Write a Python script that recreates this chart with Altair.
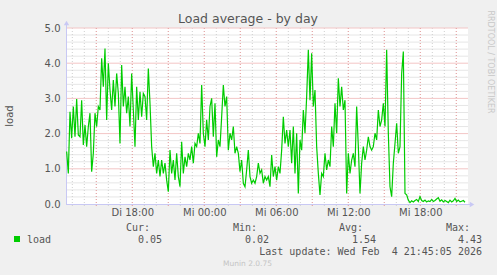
import altair as alt
import pandas as pd

# ---- data (load average, roughly every 8 minutes) ----
load_part1 = [1.49, 0.87, 2.62, 1.87, 2.77, 1.91, 2.98, 1.96, 1.91, 2.95,
              1.68, 2.24, 1.63, 2.20, 2.58, 0.92, 1.44, 2.58, 2.20, 2.77,
              2.67, 4.14, 3.33, 4.42, 2.39, 4.00, 3.24, 2.67, 3.52, 2.77,
              3.71, 3.14, 1.72, 3.95, 2.77, 3.33, 2.58, 3.05, 2.20, 3.71,
              2.67, 1.63, 3.33, 2.39, 3.19, 2.48, 3.14, 3.05, 2.39, 3.85,
              2.86, 1.63, 1.06, 1.44, 0.87, 1.25, 0.78, 1.25, 0.87, 1.16,
              0.68, 0.35, 1.53, 0.87, 1.25, 0.68, 1.44, 0.78, 0.49, 1.77,
              0.87, 1.34, 1.06, 1.44, 1.25, 1.63, 1.16, 1.72, 1.63, 2.01,
              1.72, 3.38, 2.01, 1.63, 2.39, 1.82, 2.77, 3.00, 1.91, 2.86,
              1.34, 1.82, 1.63, 2.48, 3.38, 2.77, 3.05, 1.53, 2.01, 1.82,
              2.20, 1.44, 1.63, 1.44, 0.92, 1.25, 0.59, 0.49, 0.97, 1.53,
              0.78, 0.59, 0.68, 0.59, 0.78, 1.16, 0.87]
load_part2 = [0.97, 0.59, 0.78, 0.68, 0.78, 0.49, 1.39, 0.78, 1.06, 0.68,
              1.06, 0.87, 1.53, 2.48, 1.72, 2.10, 1.63, 2.10, 1.16, 2.20,
              0.87, 2.01, 0.30, 1.82, 1.53, 2.67, 2.01, 3.05, 4.38, 2.95,
              4.28, 2.77, 3.24, 1.63, 0.87, 0.26, 0.87, 0.78, 1.44, 0.97,
              1.25, 1.06, 2.20, 1.63, 2.86, 2.01, 3.57, 2.77, 3.33, 2.67,
              2.95, 0.30, 1.44, 0.87, 1.25, 1.44, 1.06, 2.77, 1.63, 0.30,
              1.16, 1.63, 1.25, 1.53, 1.91, 1.63, 1.53, 1.63, 2.01, 1.82,
              2.67, 2.20, 2.39, 2.86, 2.20, 4.38, 2.01, 0.49, 0.21, 1.16,
              1.72, 2.29, 1.44, 1.63, 3.71, 4.33, 0.30, 0.26]
load_tail = [0.11, 0.04, 0.09, 0.06, 0.10, 0.13, 0.07, 0.21, 0.10, 0.07,
             0.11, 0.06, 0.09, 0.07, 0.13, 0.07, 0.10, 0.14, 0.18, 0.08,
             0.12, 0.06, 0.10, 0.07, 0.04, 0.11, 0.06, 0.09, 0.16, 0.07,
             0.11, 0.06, 0.08, 0.10, 0.05]
load = load_part1 + load_part2 + load_tail

start_hour = 12.53          # hours since Tue 00:00
step_hour = 0.13889         # sample spacing
hours = [start_hour + i * step_hour for i in range(len(load))]

x_domain = [12.475, 45.975]
y_domain = [0, 5]
x_label_hours = [18, 24, 30, 36, 42]
y_label_values = [0, 1, 2, 3, 4, 5]
x_minor_hours = list(range(13, 46))
x_major_hours = list(range(15, 46, 3))
y_minor = [0.2, 0.4, 0.6, 0.8, 1.2, 1.4, 1.6, 1.8, 2.2, 2.4, 2.6, 2.8,
           3.2, 3.4, 3.6, 3.8, 4.2, 4.4, 4.6, 4.8]
y_major = [1, 2, 3, 4, 5]

legend_heads = ["Cur:", "Min:", "Avg:", "Max:"]
legend_vals = ["0.05", "0.02", "1.54", "4.43"]
series_name = "load"
title_text = "Load average - by day"
update_text = "Last update: Wed Feb \u00a04 21:45:05 2026"
footer_text = "Munin 2.0.75"
side_text = "RRDTOOL / TOBI OETIKER"

W, H = 402, 176
GREEN = "#00CC00"
TXT = "#555555"
MINOR = "#cfcfcf"
MAJOR = "#eaa0a0"
MINOR_H = "#e6e6e6"
MAJOR_H = "#f3c6c6"
AXIS = "#c8c8f4"

xs = alt.Scale(domain=x_domain, nice=False, zero=False)
ys = alt.Scale(domain=y_domain, nice=False, zero=False)

X_AXIS = alt.Axis(values=x_label_hours, grid=False, ticks=False, domain=False,
                  labelPadding=3, labelFont="DejaVu Sans", labelFontSize=10,
                  labelColor=TXT, labelFlush=False, labelOverlap=False,
                  labelExpr="(datum.value < 24 ? 'Di ' : 'Mi ') + (datum.value % 24 < 10 ? '0' : '') + (datum.value % 24) + ':00'")
Y_AXIS = alt.Axis(values=y_label_values, format=".1f", grid=False, ticks=False,
                  domain=False, labelPadding=6, labelFont="DejaVu Sans",
                  labelFontSize=10, labelColor=TXT, labelOverlap=False)

df = pd.DataFrame({"hour": hours, "load": load})


def vrules(vals, color):
    return alt.Chart(pd.DataFrame({"hour": vals})).mark_rule(
        color=color, strokeWidth=1, strokeDash=[1, 2]
    ).encode(x=alt.X("hour:Q", scale=xs, axis=X_AXIS, title=None),
             y=alt.value(0), y2=alt.value(H + 2))


def hrules(vals, color):
    return alt.Chart(pd.DataFrame({"load": vals})).mark_rule(
        color=color, strokeWidth=1
    ).encode(y=alt.Y("load:Q", scale=ys, axis=Y_AXIS, title=None))


one = pd.DataFrame({"t": [""]})


def txt(s, x, y, align="left", font="DejaVu Sans Mono", size=10, color=TXT, angle=0):
    return alt.Chart(pd.DataFrame({"t": [s]})).mark_text(
        align=align, baseline="middle", font=font, fontSize=size, color=color, angle=angle
    ).encode(x=alt.value(x), y=alt.value(y), text="t:N")


grid = [hrules(y_minor, MINOR_H), vrules(x_minor_hours, MINOR),
        hrules(y_major, MAJOR_H), vrules(x_major_hours, MAJOR)]

y_axis_line = alt.Chart(one).mark_rule(color=AXIS, strokeWidth=1).encode(
    x=alt.value(0.5), y=alt.value(-5), y2=alt.value(H))
x_axis_line = alt.Chart(one).mark_rule(color=AXIS, strokeWidth=1).encode(
    y=alt.value(H + 0.5), x=alt.value(0), x2=alt.value(W + 3))
y_arrow = alt.Chart(one).mark_point(shape="triangle-up", filled=True, color=AXIS,
                                    size=28, opacity=1).encode(x=alt.value(0.5), y=alt.value(-5))
x_arrow = alt.Chart(one).mark_point(shape="triangle-right", filled=True, color=AXIS,
                                    size=28, opacity=1).encode(x=alt.value(W + 4), y=alt.value(H + 0.5))

line = alt.Chart(df).mark_line(color=GREEN, strokeWidth=1.2).encode(
    x=alt.X("hour:Q", scale=xs, axis=X_AXIS, title=None),
    y=alt.Y("load:Q", scale=ys, axis=Y_AXIS, title=None),
)

legend_sq = alt.Chart(one).mark_rect(color=GREEN).encode(
    x=alt.value(-52), x2=alt.value(-46), y=alt.value(208), y2=alt.value(214))

texts = [
    txt(title_text, 182, -9, align="center", font="DejaVu Sans", size=12.5),
    txt("load", -56, 88, align="center", font="DejaVu Sans", size=10, angle=270),
    txt(side_text, 424, 34, align="center", font="DejaVu Sans", size=8, color="#c8c8c8", angle=90),
    txt(series_name, -39, 211.5),
    txt(update_text, 416, 224, align="right"),
    txt(footer_text, 181.5, 235.5, align="center", font="DejaVu Sans", size=7.5, color="#c4c4c4"),
]
head_x = [84, 191, 297, 404]
val_x = [96, 203, 310, 416]
for h, hx in zip(legend_heads, head_x):
    texts.append(txt(h, hx, 200, align="right"))
for v, vx in zip(legend_vals, val_x):
    texts.append(txt(v, vx, 211.5, align="right"))

chart = alt.layer(
    *grid, y_axis_line, x_axis_line, y_arrow, x_arrow, line, legend_sq, *texts
).properties(
    width=W, height=H,
    autosize=alt.AutoSizeParams(type="none"),
    padding={"left": 66, "top": 28, "right": 29, "bottom": 71},
).configure(background="#F0F0F0").configure_view(fill="white", stroke=None)

chart.save("out.html", embed_options={"renderer": "svg", "actions": False})
